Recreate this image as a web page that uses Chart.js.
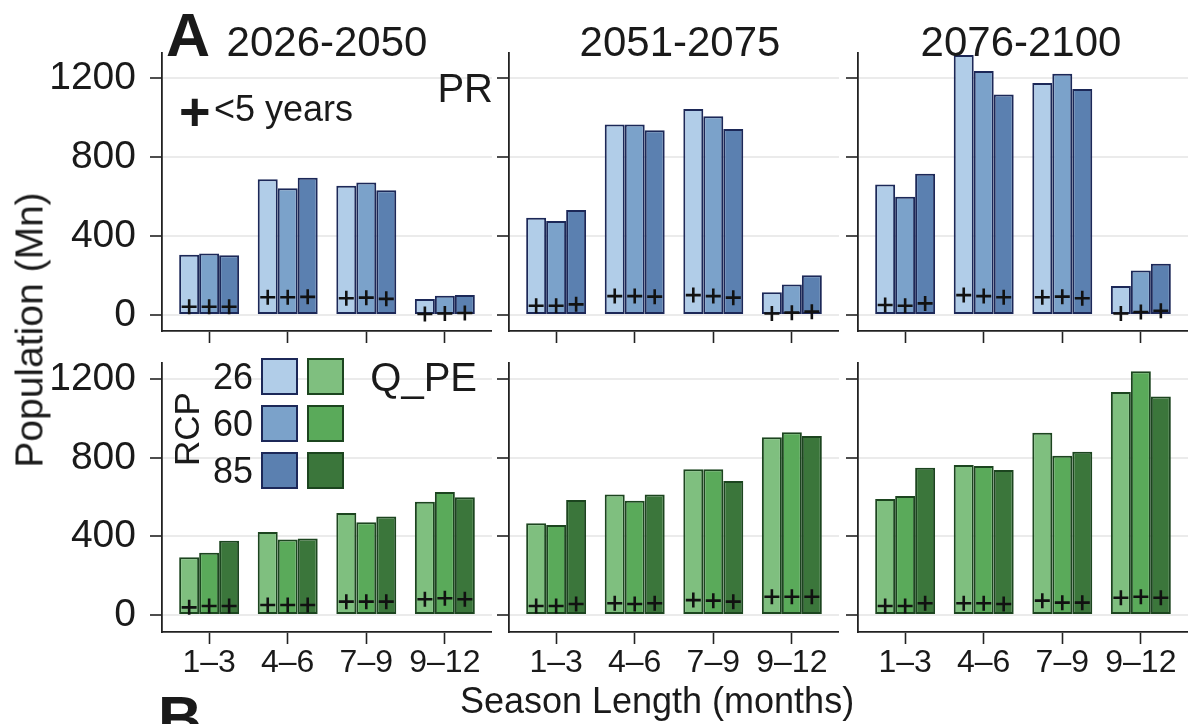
<!DOCTYPE html>
<html><head><meta charset="utf-8">
<script src="https://cdn.jsdelivr.net/npm/chart.js@4.4.1/dist/chart.umd.min.js"></script>
<style>
html,body{margin:0;padding:0;background:#fff}
body{width:1190px;height:724px;overflow:hidden;position:relative;font-family:'Liberation Sans',Arial,sans-serif;color:#1a1a1a}
canvas{position:absolute}
.t{position:absolute;white-space:nowrap;line-height:1}
.box{position:absolute;width:33px;height:33px;border:2px solid}
</style></head><body>
<script>
// ---------- data ----------
const seasonLabels = ['1–3','4–6','7–9','9–12'];
const periods = ['2026-2050','2051-2075','2076-2100'];
const rcpLabels = ['26','60','85'];
const yTicks = [0,400,800,1200];

// PR: rows = RCP26, RCP60, RCP85; columns = season length categories
const PR_2026_2050 = [[305,688,655,81],[312,642,672,98],[303,696,632,101]];
const PR_2051_2075 = [[493,966,1044,115],[476,966,1007,155],[532,936,943,201]];
const PR_2076_2100 = [[662,1318,1176,147],[600,1237,1223,225],[716,1117,1146,260]];
// PR, population < 5 years
const PR_U5_2026_2050 = [[42,90,85,5],[42,90,88,8],[42,92,82,10]];
const PR_U5_2051_2075 = [[47,96,101,8],[47,96,96,12],[54,93,88,17]];
const PR_U5_2076_2100 = [[51,101,90,8],[47,96,93,15],[59,90,85,22]];

// Q_PE
const QPE_2026_2050 = [[294,423,519,577],[317,385,472,626],[378,390,501,599]];
const QPE_2051_2075 = [[467,613,742,905],[458,582,742,930],[586,613,682,911]];
const QPE_2076_2100 = [[591,764,928,1135],[606,759,811,1241],[750,738,831,1113]];
// Q_PE, population < 5 years
const QPE_U5_2026_2050 = [[39,51,68,80],[46,51,68,85],[46,51,68,80]];
const QPE_U5_2051_2075 = [[46,60,76,93],[46,56,73,93],[56,60,68,93]];
const QPE_U5_2076_2100 = [[46,60,73,88],[46,60,63,93],[60,56,63,88]];

// ---------- styles ----------
const blueFill = ['#b1cde8','#7ba2ca','#5b80b0'];
const blueLine = '#1c2858';
const greenFill = ['#7fbf7f','#5aaa5a','#3b763b'];
const greenLine = '#1c451f';
const FONT = "'Liberation Sans', Arial, sans-serif";
const INK = '#1a1a1a';

const cols = [[162,492],[509,839],[858,1188]];
const rows = [
  {T:52, B:331, min:-81, max:1333, xH:16, labels:false},
  {T:362, B:632, min:-86.5, max:1288, xH:55, labels:true}
];

const plusPlugin = {
  id: 'plusMarks',
  afterDatasetsDraw(chart) {
    const ctx = chart.ctx, ys = chart.scales.y;
    chart.data.datasets.forEach((ds, k) => {
      const meta = chart.getDatasetMeta(k);
      meta.data.forEach((bar, i) => {
        const px = bar.x, py = ys.getPixelForValue(ds.under5[i]);
        ctx.save();
        ctx.strokeStyle = '#111'; ctx.lineWidth = 2.6;
        ctx.beginPath();
        ctx.moveTo(px - 7.5, py); ctx.lineTo(px + 7.5, py);
        ctx.moveTo(px, py - 7.5); ctx.lineTo(px, py + 7.5);
        ctx.stroke();
        ctx.restore();
      });
    });
  }
};

function panel(r, c, vals, u5, fills, line) {
  const row = rows[r];
  const [L, R] = cols[c];
  const yW = c === 0 ? 162 : 20;
  const cv = document.createElement('canvas');
  const w = R - L + yW, h = row.B - row.T + row.xH;
  cv.width = w; cv.height = h;
  cv.style.left = (L - yW) + 'px'; cv.style.top = row.T + 'px';
  cv.style.width = w + 'px'; cv.style.height = h + 'px';
  document.body.appendChild(cv);
  new Chart(cv, {
    type: 'bar',
    data: {
      datasets: vals.map((v, k) => ({
        label: 'RCP' + rcpLabels[k],
        data: v.map((y, i) => ({x: i + 1, y})),
        under5: u5[k],
        backgroundColor: fills[k],
        borderColor: line,
        borderWidth: 2,
        borderSkipped: false,
        categoryPercentage: 0.763,
        barPercentage: 1.0
      }))
    },
    options: {
      responsive: false, animation: false, devicePixelRatio: 1,
      layout: {padding: 0},
      plugins: {legend: {display: false}, tooltip: {enabled: false}},
      scales: {
        x: {
          type: 'linear', min: 0.4, max: 4.6, offset: false,
          afterBuildTicks: s => { s.ticks = seasonLabels.map((_, i) => ({value: i + 1})); },
          afterFit: s => { s.height = row.xH; s.paddingLeft = 0; s.paddingRight = 0; },
          ticks: {
            display: row.labels, autoSkip: false, maxRotation: 0, padding: 0,
            font: {family: FONT, size: 32}, color: INK,
            callback: v => seasonLabels[v - 1]
          },
          grid: {display: true, offset: false, drawOnChartArea: false, drawTicks: true, tickLength: 12, tickColor: '#222', tickWidth: 1.6},
          border: {display: true, color: '#222', width: 1.8}
        },
        y: {
          type: 'linear', min: row.min, max: row.max,
          afterBuildTicks: s => { s.ticks = yTicks.map(v => ({value: v})); },
          afterFit: s => { s.width = yW; s.paddingTop = 0; s.paddingBottom = 0; },
          ticks: {
            display: c === 0, padding: 14,
            font: {family: FONT, size: 39}, color: INK,
            callback: v => String(v)
          },
          grid: {color: '#ebebeb', lineWidth: 2, drawTicks: true, tickLength: 12, tickColor: '#222', tickWidth: 1.6},
          border: {display: true, color: '#222', width: 1.8}
        }
      }
    },
    plugins: [plusPlugin]
  });
}

const PR = [PR_2026_2050, PR_2051_2075, PR_2076_2100];
const PR_U5 = [PR_U5_2026_2050, PR_U5_2051_2075, PR_U5_2076_2100];
const QPE = [QPE_2026_2050, QPE_2051_2075, QPE_2076_2100];
const QPE_U5 = [QPE_U5_2026_2050, QPE_U5_2051_2075, QPE_U5_2076_2100];
for (let c = 0; c < 3; c++) {
  panel(0, c, PR[c], PR_U5[c], blueFill, blueLine);
  panel(1, c, QPE[c], QPE_U5[c], greenFill, greenLine);
}

// ---------- text overlays ----------
function txt(s, css) {
  const d = document.createElement('div');
  d.className = 't'; d.textContent = s;
  Object.assign(d.style, css);
  document.body.appendChild(d);
  return d;
}
const titleCenters = [327, 680, 1021];
periods.forEach((p, i) => txt(p, {left: titleCenters[i] + 'px', top: '21px', fontSize: '42px', transform: 'translateX(-50%)'}));
txt('A', {left: '166px', top: '5px', fontSize: '61px', fontWeight: 'bold'});
txt('B', {left: '158px', top: '688px', fontSize: '61px', fontWeight: 'bold'});
txt('PR', {right: (1190 - 493) + 'px', top: '68px', fontSize: '40px'});
txt('Q_PE', {right: (1190 - 477) + 'px', top: '357px', fontSize: '40px'});
txt('+', {left: '179px', top: '84px', fontSize: '54px', fontWeight: 'bold'});
txt('<5 years', {left: '214px', top: '91px', fontSize: '36px'});
txt('Population (Mn)', {left: '29px', top: '330px', fontSize: '39px', transform: 'translate(-50%,-50%) rotate(-90deg)'});
txt('Season Length (months)', {left: '657px', top: '683px', fontSize: '36px', transform: 'translateX(-50%)'});

// legend
txt('RCP', {left: '186px', top: '429px', fontSize: '35px', transform: 'translate(-50%,-50%) rotate(-90deg)'});
const legendRows = [358, 405, 452];
rcpLabels.forEach((lab, k) => {
  const y = legendRows[k];
  txt(lab, {right: (1190 - 253) + 'px', top: (y + 1) + 'px', fontSize: '36px'});
  const b1 = document.createElement('div'); b1.className = 'box';
  Object.assign(b1.style, {left: '261px', top: y + 'px', background: blueFill[k], borderColor: blueLine});
  document.body.appendChild(b1);
  const b2 = document.createElement('div'); b2.className = 'box';
  Object.assign(b2.style, {left: '307px', top: y + 'px', background: greenFill[k], borderColor: greenLine});
  document.body.appendChild(b2);
});
</script>
</body></html>
